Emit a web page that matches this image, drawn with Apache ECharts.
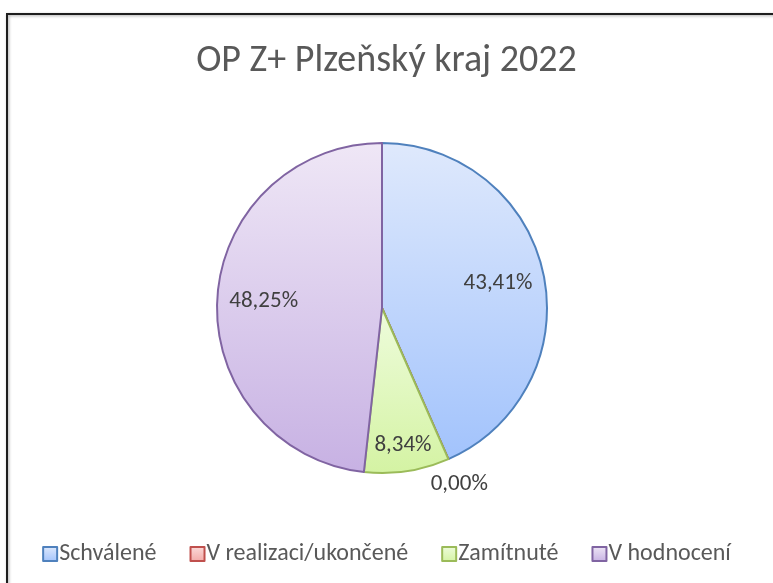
<!DOCTYPE html>
<html>
<head>
<meta charset="utf-8">
<script src="https://cdn.jsdelivr.net/npm/echarts@6/dist/echarts.min.js"></script>
<style>
  html, body { margin: 0; padding: 0; background: #fff; }
  #chart { width: 773px; height: 583px; }
</style>
</head>
<body>
<div id="chart"></div>
<script>
// ---- data ----
var categories = ['Schválené', 'V realizaci/ukončené', 'Zamítnuté', 'V hodnocení'];
var values = [43.41, 0.00, 8.34, 48.25];
var titleText = 'OP Z+ Plzeňský kraj 2022';

// ---- styles ----
var borderColors = ['#4f81bd', '#c0504d', '#9bbb59', '#8064a2'];
var gradTop = ['#dfe9fc', '#fbdcdb', '#eefcdc', '#efe7f6'];
var gradBottom = ['#a2c3fc', '#f2a9a7', '#d4f3a3', '#c7b1e3'];
// label radial placement: [inner, outer] radius of a transparent label ring per slice
var labelRings = [[66, 165], [176, 202], [106, 165], [66, 165]];
var FONT = 'Carlito, Calibri, "Liberation Sans Narrow", "Open Sans", sans-serif';
var CENTER = [382, 308];
var R = 165;

function fmt(v) { return v.toFixed(2).replace('.', ',') + '%'; }

var mainData = categories.map(function (name, i) {
  return {
    name: name,
    value: values[i],
    itemStyle: {
      color: new echarts.graphic.LinearGradient(0, 0, 0, 1, [
        { offset: 0, color: gradTop[i] },
        { offset: 1, color: gradBottom[i] }
      ]),
      borderColor: borderColors[i],
      borderWidth: 2
    }
  };
});

var series = [{
  type: 'pie',
  name: 'main',
  center: CENTER,
  radius: R,
  startAngle: 90,
  clockwise: true,
  avoidLabelOverlap: false,
  label: { show: false },
  labelLine: { show: false },
  emphasis: { disabled: true },
  data: mainData
}];

categories.forEach(function (name, k) {
  series.push({
    type: 'pie',
    name: 'label' + k,
    center: CENTER,
    radius: labelRings[k],
    startAngle: 90,
    clockwise: true,
    silent: true,
    avoidLabelOverlap: false,
    legendHoverLink: false,
    itemStyle: { color: 'rgba(0,0,0,0)', borderWidth: 0 },
    emphasis: { disabled: true },
    labelLine: { show: false },
    label: {
      show: true,
      position: 'inside',
      color: '#404040',
      fontFamily: FONT,
      fontSize: 23,
      formatter: function (p) { return p.dataIndex === k ? fmt(p.value) : ''; }
    },
    data: categories.map(function (n, i) { return { name: n, value: values[i] }; })
  });
});

var chart = echarts.init(document.getElementById('chart'), null, { renderer: 'canvas' });
chart.setOption({
  backgroundColor: '#ffffff',
  animation: false,
  graphic: [{
    type: 'rect',
    shape: { x: 7, y: 14, width: 820, height: 620 },
    style: {
      fill: 'none',
      stroke: '#1e1e1e',
      lineWidth: 2,
      shadowBlur: 3,
      shadowOffsetX: 1,
      shadowOffsetY: 1,
      shadowColor: 'rgba(0,0,0,0.35)'
    },
    silent: true,
    z: 100
  }],
  title: {
    text: titleText,
    left: 'center',
    top: 37,
    textStyle: {
      fontFamily: FONT,
      fontSize: 38,
      fontWeight: 'normal',
      color: '#595959'
    }
  },
  legend: {
    data: categories,
    top: 537,
    left: 'center',
    itemWidth: 14,
    itemHeight: 14,
    itemGap: 33,
    icon: 'rect',
    selectedMode: false,
    textStyle: {
      fontFamily: FONT,
      fontSize: 24,
      color: '#595959',
      padding: [0, 0, 0, -3]
    }
  },
  series: series
});
</script>
</body>
</html>
